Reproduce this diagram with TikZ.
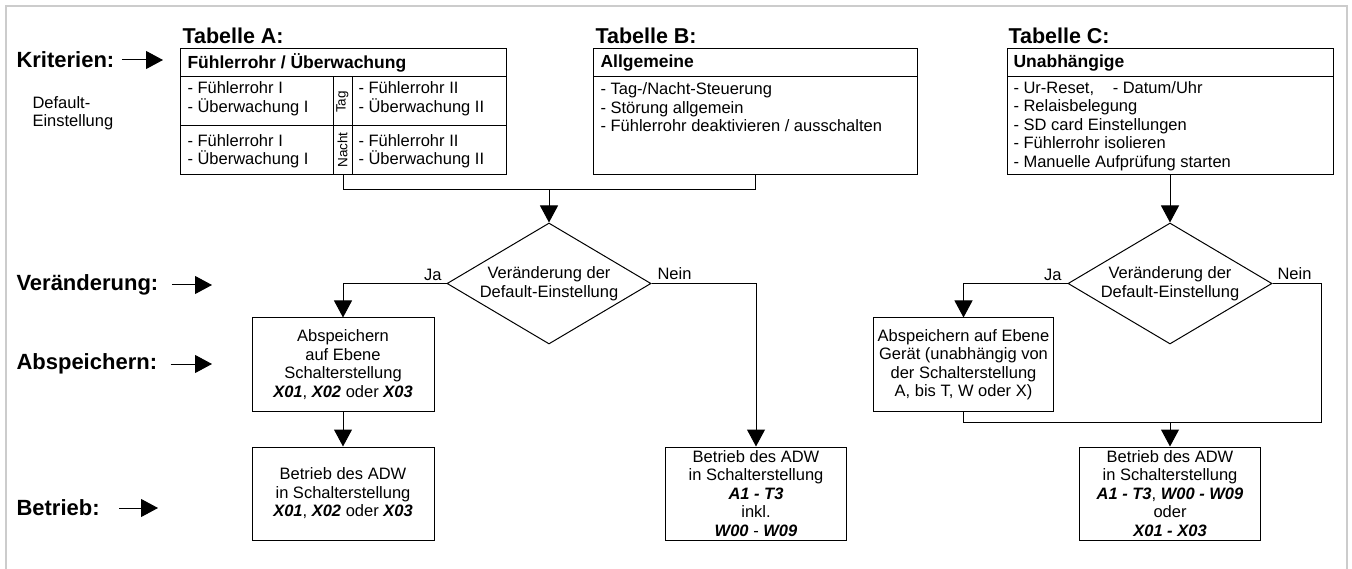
\documentclass[tikz,border=0pt]{standalone}
\usepackage{fontspec}
\setmainfont{Liberation Sans}
\usetikzlibrary{shapes.geometric, positioning, calc, arrows.meta}

\newcommand{\bodyfont}{\fontsize{16.5}{18.5}\selectfont}
\newcommand{\titlefont}{\bfseries\fontsize{21.5}{24}\selectfont}
\newcommand{\levelfont}{\bfseries\fontsize{22}{24}\selectfont}
\newcommand{\headfont}{\bfseries\fontsize{17.5}{20}\selectfont}
\newcommand{\sidefont}{\fontsize{13.5}{16}\selectfont}
\newcommand{\sw}[1]{\textbf{\textit{#1}}}

\begin{document}
\begin{tikzpicture}[x=1pt, y=-1pt, line width=1pt,
    arr/.style={-{Triangle[length=17pt,width=18pt]}},
    tabbox/.style={draw, inner sep=0pt, minimum height=126pt},
    box/.style={draw, align=center, font=\bodyfont, inner sep=0pt, minimum height=93pt},
    decision/.style={diamond, draw, aspect=1.7, inner sep=0pt, align=center, font=\bodyfont,
        minimum width=204pt, minimum height=121pt},
    txt/.style={anchor=west, inner sep=0pt, align=left, font=\bodyfont},
    lbl/.style={inner sep=0pt, font=\bodyfont},
    title/.style={anchor=west, inner sep=0pt, font=\titlefont},
    head/.style={anchor=west, inner sep=0pt, font=\headfont},
    level/.style={anchor=west, inner sep=0pt, font=\levelfont},
    frame/.style={draw=black!20, line width=2pt}]

    \useasboundingbox (0,0) rectangle (1352,569);

    % Grey frame round the page (open at the bottom)
    \draw[frame] (6,569) -- (6,6) -- (1347,6) -- (1347,569);

    % Levels on the left
    \node[level] (krit) at (16,60) {Kriterien:};
    \node[txt] (dflt) at (32,113) {Default-\\Einstellung};
    \node[level] (veraend) at (16,285) {Veränderung:};
    \node[level] (absp) at (16,364) {Abspeichern:};
    \node[level] (betr) at (16,508) {Betrieb:};

    \coordinate (kritTip) at (163,60);
    \coordinate (veraendTip) at (212,285);
    \coordinate (abspTip) at (212,364);
    \coordinate (betrTip) at (158,508);
    \draw[arr] ([xshift=7pt]krit.east) -- (kritTip);
    \draw[arr] ([xshift=13pt]veraend.east) -- (veraendTip);
    \draw[arr] ([xshift=13pt]absp.east) -- (abspTip);
    \draw[arr] ([xshift=19pt]betr.east) -- (betrTip);

    % Tabelle A
    \node[title] (titA) at (182,36) {Tabelle A:};
    \node[tabbox, minimum width=326pt] (tabA) at (343,112) {};
    \draw (180,77) -- (506,77);
    \draw (180,126) -- (506,126);
    \draw (333,77) -- (333,175);
    \draw (352,77) -- (352,175);
    \node[head] (headA) at (187,63) {Fühlerrohr / Überwachung};
    \node[txt] (tagI) at (187,98.5) {- Fühlerrohr I\\- Überwachung I};
    \node[txt] (tagII) at (358,98.5) {- Fühlerrohr II\\- Überwachung II};
    \node[txt] (nachtI) at (187,151) {- Fühlerrohr I\\- Überwachung I};
    \node[txt] (nachtII) at (358,151) {- Fühlerrohr II\\- Überwachung II};
    \node[rotate=90, inner sep=0pt, font=\sidefont] (tag) at (342.5,102) {Tag};
    \node[rotate=90, inner sep=0pt, font=\sidefont] (nacht) at (342.5,150) {Nacht};

    % Tabelle B
    \node[title] (titB) at (595,36) {Tabelle B:};
    \node[tabbox, minimum width=324pt] (tabB) at (755,112) {};
    \draw (593,77) -- (917,77);
    \node[head] (headB) at (600,63) {Allgemeine};
    \node[txt] (listB) at (600,107.5) {- Tag-/Nacht-Steuerung\\- Störung allgemein\\- Fühlerrohr deaktivieren / ausschalten};

    % Tabelle C
    \node[title] (titC) at (1008,36) {Tabelle C:};
    \node[tabbox, minimum width=326pt] (tabC) at (1170,112) {};
    \draw (1007,77) -- (1333,77);
    \node[head] (headC) at (1013,63) {Unabhängige};
    \node[txt] (listC) at (1013,126) {- Ur-Reset,\hspace{14pt} - Datum/Uhr\\- Relaisbelegung\\- SD card Einstellungen\\- Fühlerrohr isolieren\\- Manuelle Aufprüfung starten};

    % Left flow: Tabelle A and B
    \coordinate (join) at (549,190);
    \draw (tabA.south) |- (join);
    \draw (tabB.south) |- (join);
    \node[decision] (dec1) at (549,283.5) {Veränderung der\\Default-Einstellung};
    \draw[arr] (join) -- (dec1.north);

    \node[box, minimum width=182pt] (saveA) at (343,364.5) {Abspeichern\\auf Ebene\\Schalterstellung\\\sw{X01}, \sw{X02} oder \sw{X03}};
    \node[box, minimum width=182pt] (runA) at (343,493.5) {Betrieb des ADW\\in Schalterstellung\\\sw{X01}, \sw{X02} oder \sw{X03}};
    \node[box, minimum width=181pt] (runB) at (756,493.5) {Betrieb des ADW\\in Schalterstellung\\\sw{A1 - T3}\\inkl.\\\sw{W00} - \sw{W09}};

    \draw[arr] (dec1.west) -| (saveA.north);
    \node[lbl, anchor=east] (ja1) at (442,275) {Ja};
    \draw[arr] (dec1.east) -| (runB.north);
    \node[lbl, anchor=west] (nein1) at (657,274) {Nein};
    \draw[arr] (saveA) -- (runA);

    % Right flow: Tabelle C
    \node[decision] (dec2) at (1170,283.5) {Veränderung der\\Default-Einstellung};
    \draw[arr] (tabC.south) -- (dec2.north);

    \node[box, minimum width=180pt] (saveC) at (963.5,364.5) {Abspeichern auf Ebene\\Gerät (unabhängig von\\der Schalterstellung\\A, bis T, W oder X)};
    \node[box, minimum width=181pt] (runC) at (1170,493.5) {Betrieb des ADW\\in Schalterstellung\\\sw{A1 - T3}, \sw{W00 - W09}\\oder\\\sw{X01 - X03}};

    \draw[arr] (dec2.west) -| (saveC.north);
    \node[lbl, anchor=east] (ja2) at (1062,275) {Ja};
    \node[lbl, anchor=west] (nein2) at (1277,274) {Nein};

    \coordinate (neinC) at (1321,422);
    \coordinate (merge) at (1170,422);
    \draw (dec2.east) -| (neinC) -- (merge);
    \draw (saveC.south) |- (merge);
    \draw[arr] (merge) -- (runC.north);

\end{tikzpicture}
\end{document}
